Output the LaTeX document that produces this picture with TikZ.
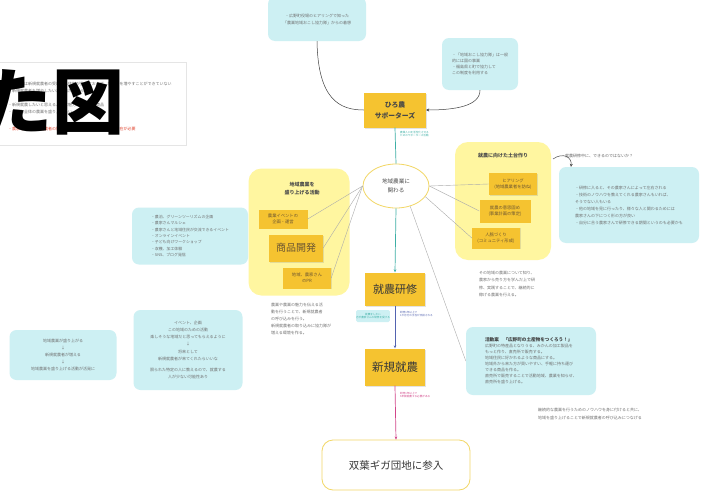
\documentclass[tikz,border=0pt]{standalone}
\usepackage{fontspec}
\newfontfamily\jp{Noto Sans CJK JP}
\usetikzlibrary{shapes.geometric,arrows.meta,shadows}
\newcommand\myfs[2]{\fontsize{#1}{#2}\selectfont}
\definecolor{cyanbg}{HTML}{CDF0F3}
\definecolor{gold}{HTML}{F5C330}
\definecolor{ylw}{HTML}{FFF6A0}
\definecolor{txt}{HTML}{707070}
\definecolor{stk}{HTML}{6B5530}
\definecolor{tealc}{HTML}{3DAFA5}
\definecolor{bluec}{HTML}{5363B0}
\definecolor{pinkc}{HTML}{D2468A}
\definecolor{yborder}{HTML}{F2D766}
\definecolor{redt}{HTML}{E0402A}
\begin{document}
\begin{tikzpicture}[x=1pt,y=-1pt,
  every node/.style={font=\jp, text=txt, inner sep=0pt},
  cybox/.style={fill=cyanbg, rounded corners=7pt},
  small/.style={font=\jp\myfs{4}{6.2}},
  tiny/.style={font=\jp\myfs{2.6}{3.6}, align=left},
  sticky/.style={fill=gold, drop shadow={opacity=0.22,shadow xshift=0.8pt,shadow yshift=-0.9pt}, text=stk, align=center, font=\jp\myfs{4.3}{6.5}},
  bigsticky/.style={fill=gold, drop shadow={opacity=0.22,shadow xshift=1pt,shadow yshift=-1.2pt}, text=black!78, align=center},
  ylreg/.style={fill=ylw, rounded corners=13pt},
  link/.style={draw=gray!65, line width=0.4pt},
  title/.style={font=\jp\bfseries\myfs{5}{8}, text=black!70, align=center}
]
\clip (0,0) rectangle (702,498);
\fill[white] (0,0) rectangle (702,498);

% top-left box with overlay text
\node[draw=gray!20, fill=white, minimum width=190pt, minimum height=83pt, anchor=north west] (tl) at (-4,62) {};
\node[small, anchor=west] (tl1) at (8,84) {・広野町は新規就農者の受け入れ体制が整っておらず、就農者を増やすことができていない};
\node[small, anchor=west] (tl2) at (8,91) {・新規就農者を増やしたいが方法がわからない};
\node[small, anchor=west] (tl3) at (8,105) {・新規就農したいと思えるような魅力的な農業や商品};
\node[small, anchor=west] (tl4) at (8,112) {・広野町全体の農業を盛り上げたい};
\node[small, anchor=west, text=redt] (tl5) at (8,129) {・農家さんと新規就農者の間に立って、サポートしてくれる存在が必要};
\node[font=\jp\bfseries\myfs{72}{76}, text=black, anchor=east] (big) at (125,102) {た図};

% top cyan boxes
\node[cybox, minimum width=98pt, minimum height=44pt, align=center, font=\jp\myfs{4}{7}] (top) at (317,19) {・広野町役場のヒアリングで知った\\「農業地域おこし協力隊」からの着想};
\node[cybox, minimum width=76pt, minimum height=52pt, align=left, font=\jp\myfs{4}{6.3}] (rtop) at (480,64) {・「地域おこし協力隊」は一般\\的には国の事業\\・福島県と町で協力して\\この制度を利用する};

% hiro
\node[bigsticky, minimum width=62pt, minimum height=35pt, font=\jp\bfseries\myfs{6.8}{11}, text=black!72] (hiro) at (395,110) {ひろ農\\サポーターズ};
\draw[black!75, line width=0.5pt] (top.south) .. controls (318,100) and (340,110) .. (hiro.west);
\draw[black!75, line width=0.5pt, -{Stealth[length=3pt,width=3pt]}] (rtop.south) .. controls (480,106) and (455,110) .. (hiro.east);

% ellipse
\node[ellipse, draw=yborder, line width=0.8pt, fill=white, minimum width=66pt, minimum height=44pt, align=center, font=\jp\myfs{5.6}{8.5}, text=black!70] (ell) at (396,186) {地域農業に\\関わる};
\draw[tealc, line width=0.7pt] (hiro.south) -- (ell.north);
\node[tiny, text=tealc, anchor=north west] (tl-lab) at (400,131) {農業人口を活性化させる\\ためのサポーターズ活動};

% left region
\node[ylreg, minimum width=101pt, minimum height=127pt] (lreg) at (299,232) {};
\node[title] (ltitle) at (302,189) {地域農業を\\盛り上げる活動};
\node[sticky, minimum width=49pt, minimum height=19pt] (n1) at (283,219) {農業イベントの\\企画・運営};
\node[bigsticky, minimum width=54pt, minimum height=27pt, font=\jp\myfs{10}{12}, text=stk] (n2) at (296,248) {商品開発};
\node[sticky, minimum width=48pt, minimum height=21pt] (n3) at (307,278) {地域、農家さん\\のPR};
\draw[link] (ell.west) -- (n1.east);
\draw[link] (ell.west) -- (n2.east);
\draw[link] (ell.west) -- (n3.east);
\node[small, align=left, font=\jp\myfs{4}{7.2}] (ltext) at (301,319) {農業や農業の魅力を伝える活\\動を行うことで、新規就農者\\の呼び込みを行う。\\新規就農者の取り込みに協力隊が\\増える環境を作る。};

% left cyan list
\node[cybox, minimum width=116pt, minimum height=57pt, align=left, font=\jp\myfs{3.9}{6.4}] (lcy) at (190,236) {・農泊、グリーンツーリズムの企画\\・農家さんマルシェ\\・農家さんと地域住民が交流できるイベント\\・オンラインイベント\\・子ども向けワークショップ\\・収穫、加工体験\\・SNS、ブログ発信};

% right region
\node[ylreg, minimum width=96pt, minimum height=118pt] (rreg) at (503,201) {};
\node[title] (rtitle) at (503,156) {就農に向けた土台作り};
\node[sticky, minimum width=48pt, minimum height=22pt] (m1) at (513,184) {ヒアリング\\(地域農業者を訪ね)};
\node[sticky, minimum width=51pt, minimum height=23pt] (m2) at (505,211) {就農の意思固め\\(事業計画の策定)};
\node[sticky, minimum width=48pt, minimum height=21pt] (m3) at (496,238) {人脈づくり\\(コミュニティ形成)};
\draw[link] (ell.east) -- (m1.west);
\draw[link] (ell.east) -- (m2.west);
\draw[link] (ell.-20) -- (m3.west);
\node[small, align=left, font=\jp\myfs{4}{7.2}] (rtext) at (507,284) {その地域の農業について知り、\\農家から売り方を学んだ上で研\\修、実践することで、継続的に\\稼げる農業を行える。};

% right question + cyan
\node[small, anchor=west, text=black!60] (q) at (565,156) {就農研修中に、できるのではないか？};
\node[cybox, minimum width=140pt, minimum height=76pt, align=left, font=\jp\myfs{4}{7}] (rcy) at (629,205) {・研修に入ると、その農家さんによって左右される\\・技術のノウハウを教えてくれる農家さんもいれば、\\そうでない人もいる\\・他の地域を見に行ったり、様々な人と関わるためには\\農家さんの下につく形の方が良い\\・自分に合う農家さんで研修できる期間というのも必要かも};
\coordinate (qs) at (553,159);
\draw[black!70, line width=0.5pt, -{Stealth[length=3pt,width=3pt]}] (qs) .. controls (563,152) and (572,157) .. (rcy.north west -| 571,0) ;

% main column
\node[bigsticky, minimum width=60pt, minimum height=33pt, font=\jp\myfs{11}{13}] (ken) at (395,289) {就農研修};
\node[bigsticky, minimum width=60pt, minimum height=37pt, font=\jp\myfs{11.5}{13}] (shin) at (395,367) {新規就農};
\node[draw=yborder, line width=0.8pt, fill=white, rounded corners=11pt, minimum width=148pt, minimum height=50pt, font=\jp\myfs{10.5}{12}, text=black!78] (fut) at (396,465) {双葉ギガ団地に参入};
\draw[tealc, line width=0.7pt, -{Stealth[length=3pt,width=2.6pt]}] (ell.south) -- (ken.north);
\draw[bluec, line width=0.7pt, -{Stealth[length=3pt,width=2.6pt]}] (ken.south) -- (shin.north);
\draw[pinkc, line width=0.7pt, -{Stealth[length=3pt,width=2.6pt]}] (shin.south) -- (fut.north);
\node[cybox, rounded corners=1.5pt, minimum width=32pt, minimum height=12pt, tiny, align=center, text=tealc] (kn) at (373,316) {就農をしたい\\方が農家さんの研修を受ける};
\node[tiny, text=bluec, anchor=north west] (kb) at (400,311) {研修1年以上で\\1か月分の手当が支給される};
\node[tiny, text=pinkc, anchor=north west] (kp) at (400,392) {研修1年以上で\\5年間就農する必要がある};

% hirono box
\node[cybox, minimum width=130pt, minimum height=68pt, align=left, font=\jp\myfs{4}{6}] (kbox) at (531,361) {{\bfseries\color{black!75}\myfs{4.6}{6}活動案\quad 「広野町の土産物をつくろう！」}\\広野町の特産品となりうる、みかんの加工製品を\\もっと作り、直売所で販売する。\\地域住民に好かれるような商品にする。\\地域外から来た方が買いやすい、手軽に持ち運び\\できる商品を作る。\\直売所で販売することで活動地域、農業を知らせ、\\直売所を盛り上げる。};
\draw[link] (ell.-55) -- (kbox.west);
\node[small, align=left, font=\jp\myfs{4}{8}] (btext) at (590,414) {継続的な農業を行うためのノウハウを身に付けると共に、\\地域を盛り上げることで新規就農者の呼び込みにつなげる};

% lower left cyan boxes
\node[cybox, minimum width=107pt, minimum height=50pt, align=center, font=\jp\myfs{4}{6.8}] (ll1) at (63,355) {地域農業が盛り上がる\\↓\\新規就農者が増える\\↓\\地域農業を盛り上げる活動が活発に};
\node[cybox, minimum width=109pt, minimum height=80pt, align=center, font=\jp\myfs{4}{7.2}] (ll2) at (188,350) {イベント、企画\\この地域のための活動\\楽しそうな地域だと思ってもらえるように\\↓\\将来として\\新規就農者が来てくれたらいいな\\[4pt]限られた特定の人に教えるので、就農する\\人が少ない可能性あり};
\end{tikzpicture}
\end{document}
